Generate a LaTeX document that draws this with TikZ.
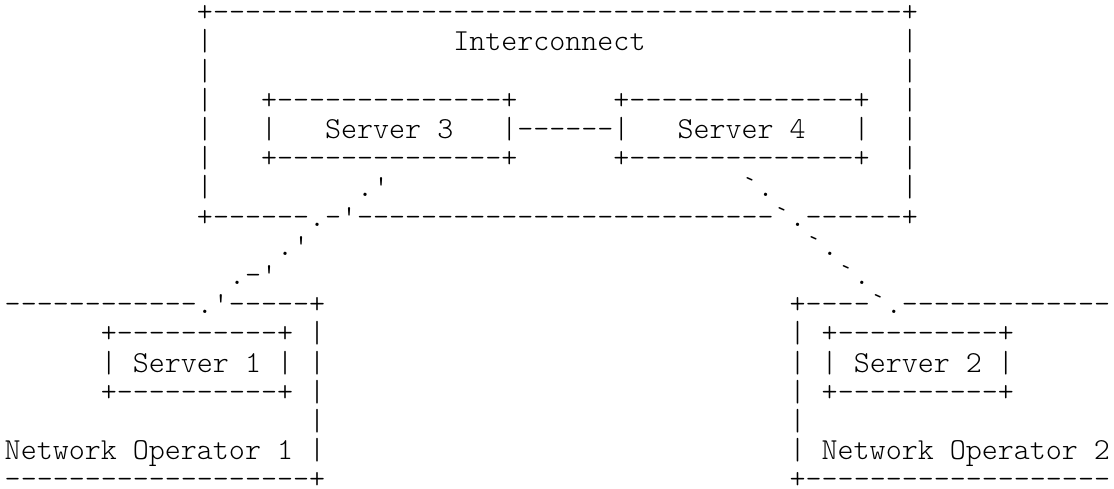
\documentclass[tikz,border=0pt]{standalone}
\usepackage{fontspec}
\newfontfamily\asciimono{lmmonolt10-regular.otf}[Ligatures=ResetAll,WordSpace={1,0,0}]
\ExplSyntaxOn
\cs_new:Npn \myrep #1#2 { \prg_replicate:nn {#1} {#2} }
\ExplSyntaxOff
\newcommand{\gapc}[1]{\hspace*{#1\dimexpr 16.02pt\relax}}
\begin{document}
\begin{tikzpicture}[x=1pt,y=1pt,
  asc/.style={inner sep=0pt,outer sep=0pt,anchor=base west,
    font=\asciimono\fontsize{30.51pt}{29.2pt}\selectfont,text=black}]
\useasboundingbox (0,0) rectangle (1114,489);
% column c -> x = 4.75 + 16.02 c ; line k -> y = (17-k)*29.2
\node[asc] (l1)  at ({4.75+16.02*12},{16*29.2}) {+\myrep{43}{-}+};
\node[asc] (l2)  at ({4.75+16.02*12},{15*29.2}) {|\gapc{15}Interconnect\gapc{16}|};
\node[asc] (l3)  at ({4.75+16.02*12},{14*29.2}) {|\gapc{43}|};
\node[asc] (l4)  at ({4.75+16.02*12},{13*29.2}) {|\gapc{3}+\myrep{14}{-}+\gapc{6}+\myrep{14}{-}+\gapc{2}|};
\node[asc] (l5)  at ({4.75+16.02*12},{12*29.2}) {|\gapc{3}|\gapc{3}Server 3\gapc{3}|\myrep{6}{-}|\gapc{3}Server 4\gapc{3}|\gapc{2}|};
\node[asc] (l6)  at ({4.75+16.02*12},{11*29.2}) {|\gapc{3}+\myrep{14}{-}+\gapc{6}+\myrep{14}{-}+\gapc{2}|};
\node[asc] (l7)  at ({4.75+16.02*12},{10*29.2}) {|\gapc{9}.'\gapc{22}`.\gapc{8}|};
\node[asc] (l8)  at ({4.75+16.02*12},{9*29.2})  {+\myrep{6}{-}.-'\myrep{26}{-}`.\myrep{6}{-}+};
\node[asc] (l9)  at ({4.75+16.02*17},{8*29.2})  {.'\gapc{31}`.};
\node[asc] (l10) at ({4.75+16.02*14},{7*29.2})  {.-'\gapc{35}`.};
\node[asc] (l11) at ({4.75},{6*29.2})           {\myrep{12}{-}.'\myrep{5}{-}+\gapc{29}+\myrep{4}{-}`.\myrep{13}{-}};
\node[asc] (l12) at ({4.75+16.02*6},{5*29.2})   {+\myrep{10}{-}+\gapc{1}|\gapc{29}|\gapc{1}+\myrep{10}{-}+};
\node[asc] (l13) at ({4.75+16.02*6},{4*29.2})   {| Server 1 |\gapc{1}|\gapc{29}|\gapc{1}| Server 2 |};
\node[asc] (l14) at ({4.75+16.02*6},{3*29.2})   {+\myrep{10}{-}+\gapc{1}|\gapc{29}|\gapc{1}+\myrep{10}{-}+};
\node[asc] (l15) at ({4.75+16.02*19},{2*29.2})  {|\gapc{29}|};
\node[asc] (l16) at ({4.75},{1*29.2})           {Network Operator 1 |\gapc{29}| Network Operator 2};
\node[asc] (l17) at ({4.75},{0})                {\myrep{19}{-}+\gapc{29}+\myrep{19}{-}};
\end{tikzpicture}
\end{document}
